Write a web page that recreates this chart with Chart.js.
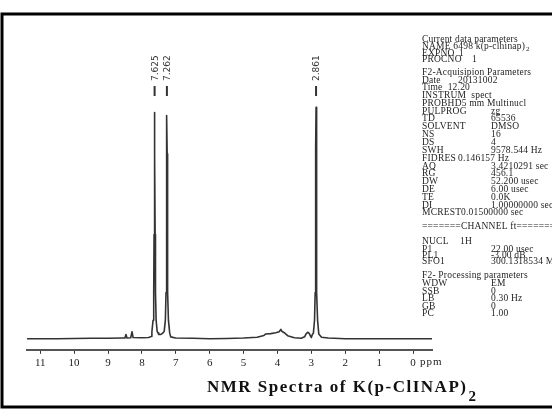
<!DOCTYPE html>
<html lang="en">
<head>
    <meta charset="UTF-8">
    <title>NMR Spectra of K(p-ClINAP)2</title>
    <script src="https://cdn.jsdelivr.net/npm/chart.js"></script>
    <style>
        html, body { margin: 0; padding: 0; background: #fff; }
        #nmrChart { display: block; }
    </style>
</head>
<body>
    <canvas id="nmrChart" width="552" height="410"></canvas>
    <script>
        // spectrum: chemical shift (ppm) and relative intensity (2.861 peak = 100)
        const shiftPpm = [11.39, 10.5, 10.0, 9.5, 9.0, 8.6, 8.5, 8.47, 8.44, 8.33, 8.29, 8.26, 8.0, 7.8, 7.72, 7.705,
            7.67, 7.651, 7.641, 7.633, 7.625, 7.617, 7.609, 7.599, 7.58, 7.55, 7.52, 7.5, 7.45, 7.4, 7.35, 7.342, 7.307, 7.288, 7.278, 7.27,
            7.262, 7.254, 7.246, 7.236, 7.217, 7.18, 7.15, 7.0, 6.5, 6.0, 5.5, 5.0, 4.6, 4.4, 4.35, 4.2, 4.05, 3.95, 3.9,
            3.87, 3.8, 3.7, 3.5, 3.3, 3.2, 3.15, 3.1, 3.06, 3.02, 3.0, 2.97, 2.94, 2.941, 2.906, 2.887, 2.877, 2.869,
            2.861, 2.853, 2.845, 2.835, 2.816, 2.78, 2.7, 2.5, 2.0, 1.0, 0.0, -0.56];
        const intensity = [0, 0, 0.1, 0.2, 0.2, 0.3, 0.3, 1.8, 0.3, 0.4, 3.0, 0.5, 0.4, 0.5, 1.0, 3,
            8, 20, 45, 80, 97.8, 80, 45, 20, 8, 3.2, 2.4, 1.8, 1.8, 2.2, 3, 3.2, 8, 20, 45, 80,
            96.5, 80, 45, 20, 8, 2.5, 0.8, 0.3, 0.2, 0, 0.1, 0.3, 0.6, 1.4, 2.0, 2.2, 2.6, 3.0, 4.0,
            3.2, 2.6, 1.3, 0.4, 0.2, 0.8, 2.2, 2.8, 2.2, 1.0, 0.5, 1.8, 2.4, 2.4, 8, 20, 45, 82,
            100, 82, 45, 20, 8, 2, 0.6, 0.3, 0, 0, 0, 0];

        // axis ticks and the labelled peaks
        const tickVals = [11, 10, 9, 8, 7, 6, 5, 4, 3, 2, 1, 0];
        const peakLabels = ['7.625', '7.262', '2.861'];

        // acquisition parameters printed beside the spectrum: [label, value, value column x, y]
        const paramLines = [
            ['Current data parameters', '', 0, 39],
            ['NAME 6498 k(p-clhinap)', '', 0, 46],
            ['EXPNO', '1', 459, 53],
            ['PROCNO', '1', 472, 59],
            ['F2-Acquisipion Parameters', '', 0, 72],
            ['Date', '20131002', 458, 80],
            ['Time  12.20', '', 0, 87],
            ['INSTRUM  spect', '', 0, 95],
            ['PROBHD5 mm Multinucl', '', 0, 103],
            ['PULPROG', 'zg', 491, 111],
            ['TD', '65536', 491, 118],
            ['SOLVENT', 'DMSO', 491, 126],
            ['NS', '16', 491, 134],
            ['DS', '4', 491, 142],
            ['SWH', '9578.544 Hz', 491, 150],
            ['FIDRES', '0.146157 Hz', 458, 158],
            ['AQ', '3.4210291 sec', 491, 166],
            ['RG', '456.1', 491, 173],
            ['DW', '52.200 usec', 491, 181],
            ['DE', '6.00 usec', 491, 189],
            ['TE', '0.0K', 491, 197],
            ['DI', '1.00000000 sec', 491, 205],
            ['MCREST', '0.01500000 sec', 461, 212],
            ['=======CHANNEL ft=======', '', 0, 226],
            ['NUCL', '1H', 460, 241],
            ['P1', '22.00 usec', 491, 249],
            ['PL1', '-3.00 dB', 491, 255],
            ['SFO1', '300.1318534 MHz', 491, 261],
            ['F2- Processing parameters', '', 0, 275],
            ['WDW', 'EM', 491, 283],
            ['SSB', '0', 491, 291],
            ['LB', '0.30 Hz', 491, 298],
            ['GB', '0', 491, 306],
            ['PC', '1.00', 491, 313]
        ];

        const serif = '"Liberation Serif", "DejaVu Serif", serif';

        // Paper, frame, peak marks, parameter listing and caption
        const annotations = {
            id: 'annotations',
            beforeDraw(chart) {
                const ctx = chart.ctx;
                ctx.save();
                ctx.fillStyle = '#fff';
                ctx.fillRect(0, 0, chart.width, chart.height);
                ctx.restore();
            },
            afterDraw(chart) {
                const ctx = chart.ctx;
                const xs = chart.scales.x;
                ctx.save();

                // frame of the scanned page
                ctx.strokeStyle = '#000';
                ctx.lineWidth = 3;
                ctx.strokeRect(2, 14, 560, 393);

                // peak pick labels
                ctx.fillStyle = '#333';
                ctx.font = '9px "DejaVu Sans", sans-serif';
                peakLabels.forEach(lbl => {
                    const px = xs.getPixelForValue(parseFloat(lbl));
                    ctx.save();
                    ctx.translate(px + 3, 81);
                    ctx.rotate(-Math.PI / 2);
                    ctx.textAlign = 'left';
                    ctx.textBaseline = 'alphabetic';
                    ctx.fillText(lbl, 0, 0);
                    ctx.restore();
                    ctx.fillRect(px - 1, 86, 2, 10);
                });

                // "ppm" after the zero tick
                ctx.font = '11px ' + serif;
                ctx.fillStyle = '#222';
                ctx.textAlign = 'left';
                ctx.textBaseline = 'middle';
                ctx.letterSpacing = '1px';
                ctx.fillText('ppm', xs.getPixelForValue(0) + 7, 362);
                ctx.letterSpacing = '0px';

                // parameter listing
                ctx.font = '9.5px ' + serif;
                ctx.fillStyle = '#1e1e1e';
                ctx.letterSpacing = '0.2px';
                paramLines.forEach(([label, value, vx, y]) => {
                    ctx.fillText(label, 422, y);
                    if (value) ctx.fillText(value, vx, y);
                });
                const nameW = ctx.measureText('NAME 6498 k(p-clhinap)').width;
                ctx.letterSpacing = '0px';
                ctx.font = '7px ' + serif;
                ctx.fillText('2', 422 + nameW + 1, 49);

                // caption
                ctx.font = 'bold 17px ' + serif;
                ctx.fillStyle = '#111';
                ctx.textBaseline = 'alphabetic';
                ctx.letterSpacing = '1.5px';
                const cap = 'NMR Spectra of K(p-ClINAP)';
                ctx.fillText(cap, 207, 392);
                const capW = ctx.measureText(cap).width;
                ctx.letterSpacing = '0px';
                ctx.font = 'bold 15px ' + serif;
                ctx.fillText('2', 207 + capW + 1, 401);

                ctx.restore();
            }
        };

        const nmrCtx = document.getElementById('nmrChart').getContext('2d');
        new Chart(nmrCtx, {
            type: 'line',
            data: {
                datasets: [{
                    data: shiftPpm.map((x, i) => ({ x: x, y: intensity[i] })),
                    borderColor: '#333',
                    borderWidth: 1.6,
                    borderJoinStyle: 'round',
                    pointRadius: 0,
                    tension: 0,
                    fill: false
                }]
            },
            options: {
                responsive: false,
                animation: false,
                devicePixelRatio: 1,
                layout: { padding: { left: 27, right: 120, top: 20, bottom: 37 } },
                plugins: {
                    legend: { display: false },
                    tooltip: { enabled: false }
                },
                scales: {
                    x: {
                        type: 'linear',
                        reverse: true,
                        min: -0.56,
                        max: 11.39,
                        afterBuildTicks: scale => {
                            scale.ticks = tickVals.map(v => ({ value: v }));
                        },
                        ticks: {
                            autoSkip: false,
                            maxRotation: 0,
                            padding: 3,
                            color: '#222',
                            font: { family: serif, size: 11 },
                            callback: v => String(v)
                        },
                        grid: {
                            drawOnChartArea: false,
                            drawTicks: true,
                            tickLength: 4,
                            tickColor: '#333',
                            tickWidth: 1
                        },
                        border: { display: true, color: '#555', width: 2, dash: [2, 1] }
                    },
                    y: {
                        display: false,
                        min: -4.8,
                        max: 137.8
                    }
                }
            },
            plugins: [annotations]
        });
    </script>
</body>
</html>
